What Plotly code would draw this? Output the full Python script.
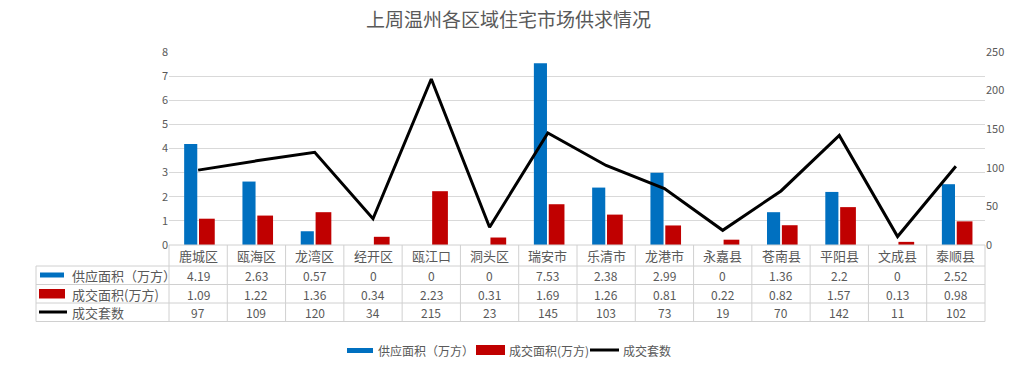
import plotly.graph_objects as go

categories = ["鹿城区", "瓯海区", "龙湾区", "经开区", "瓯江口", "洞头区", "瑞安市",
              "乐清市", "龙港市", "永嘉县", "苍南县", "平阳县", "文成县", "泰顺县"]
supply_area = [4.19, 2.63, 0.57, 0, 0, 0, 7.53, 2.38, 2.99, 0, 1.36, 2.2, 0, 2.52]
deal_area = [1.09, 1.22, 1.36, 0.34, 2.23, 0.31, 1.69, 1.26, 0.81, 0.22, 0.82, 1.57, 0.13, 0.98]
deal_units = [97, 109, 120, 34, 215, 23, 145, 103, 73, 19, 70, 142, 11, 102]
series_names = ["供应面积（万方）", "成交面积(万方)", "成交套数"]
left_ticks = [0, 1, 2, 3, 4, 5, 6, 7, 8]
right_ticks = [0, 50, 100, 150, 200, 250]

BLUE = "#0070C0"
RED = "#C00000"
BLACK = "#000000"
GREY_TXT = "#595959"
GRID = "#D9D9D9"
BORDER = "#D0D0D0"
FONT = "Noto Sans CJK SC, Microsoft YaHei, sans-serif"

W, H = 1017, 371
L, R, T, B = 169, 32, 52, 126
PW = W - L - R
PH = H - T - B


def px(x):
    return (x - L) / PW


def py(y):
    return (H - B - y) / PH


fig = go.Figure()
fig.add_trace(go.Bar(x=categories, y=supply_area, name=series_names[0],
                     marker=dict(color=BLUE, line=dict(width=0)),
                     width=0.225, offset=-0.24, showlegend=False, yaxis="y"))
fig.add_trace(go.Bar(x=categories, y=deal_area, name=series_names[1],
                     marker=dict(color=RED, line=dict(width=0)),
                     width=0.27, offset=0.015, showlegend=False, yaxis="y"))
fig.add_trace(go.Scatter(x=categories, y=deal_units, name=series_names[2], mode="lines",
                         line=dict(color=BLACK, width=3), showlegend=False, yaxis="y2"))

shapes = []
annotations = []

n = len(categories)
rows_y = [245, 266, 284.5, 303, 321.5]
table_left = 36
shapes.append(dict(type="line", xref="paper", yref="paper", x0=0, x1=1,
                   y0=py(rows_y[0]), y1=py(rows_y[0]), line=dict(color=BORDER, width=1)))
for ry in rows_y[1:]:
    shapes.append(dict(type="line", xref="paper", yref="paper", x0=px(table_left), x1=1,
                       y0=py(ry), y1=py(ry), line=dict(color=BORDER, width=1)))
for i in range(n + 1):
    shapes.append(dict(type="line", xref="paper", yref="paper", x0=i / n, x1=i / n,
                       y0=py(rows_y[0]), y1=py(rows_y[-1]), line=dict(color=BORDER, width=1)))
shapes.append(dict(type="line", xref="paper", yref="paper", x0=px(table_left), x1=px(table_left),
                   y0=py(rows_y[1]), y1=py(rows_y[-1]), line=dict(color=BORDER, width=1)))

row_centers = [255.5, 275, 294, 312.5]
for i, c in enumerate(categories):
    xc = (i + 0.5) / n
    annotations.append(dict(x=xc, y=py(row_centers[0]), xref="paper", yref="paper", text=c,
                            showarrow=False, xanchor="center", yanchor="middle",
                            font=dict(size=13, color=GREY_TXT, family=FONT)))
    for r, vals in enumerate([supply_area, deal_area, deal_units]):
        annotations.append(dict(x=xc, y=py(row_centers[r + 1]), xref="paper", yref="paper",
                                text=str(vals[i]), showarrow=False,
                                xanchor="center", yanchor="middle",
                                font=dict(size=12, color=GREY_TXT, family=FONT)))

shapes.append(dict(type="rect", xref="paper", yref="paper", x0=px(40), x1=px(64),
                   y0=py(272.5), y1=py(277.5), fillcolor=BLUE, line=dict(width=0)))
shapes.append(dict(type="rect", xref="paper", yref="paper", x0=px(39), x1=px(65),
                   y0=py(289), y1=py(298.5), fillcolor=RED, line=dict(width=0)))
shapes.append(dict(type="line", xref="paper", yref="paper", x0=px(39), x1=px(67),
                   y0=py(312), y1=py(312), line=dict(color=BLACK, width=3)))
for r, name in enumerate(series_names):
    annotations.append(dict(x=px(70), y=py(row_centers[r + 1]), xref="paper", yref="paper",
                            text=name, showarrow=False, xanchor="left", yanchor="middle",
                            font=dict(size=13, color=GREY_TXT, family=FONT)))

ly = 350
shapes.append(dict(type="rect", xref="paper", yref="paper", x0=px(347), x1=px(373),
                   y0=py(348), y1=py(353), fillcolor=BLUE, line=dict(width=0)))
shapes.append(dict(type="rect", xref="paper", yref="paper", x0=px(476), x1=px(505),
                   y0=py(345), y1=py(355), fillcolor=RED, line=dict(width=0)))
shapes.append(dict(type="line", xref="paper", yref="paper", x0=px(590), x1=px(619),
                   y0=py(ly), y1=py(ly), line=dict(color=BLACK, width=3)))
for xl, name in zip([376, 507, 621], series_names):
    annotations.append(dict(x=px(xl), y=py(ly), xref="paper", yref="paper", text=name,
                            showarrow=False, xanchor="left", yanchor="middle",
                            font=dict(size=12, color=GREY_TXT, family=FONT)))

fig.update_layout(
    width=W, height=H,
    margin=dict(l=L, r=R, t=T, b=B),
    paper_bgcolor="white", plot_bgcolor="white",
    barmode="overlay",
    title=dict(text="上周温州各区域住宅市场供求情况", x=0.5, xref="container", xanchor="center",
               y=1 - 20 / H, yref="container", yanchor="middle",
               font=dict(size=19, color=GREY_TXT, family=FONT)),
    xaxis=dict(type="category", range=[-0.5, n - 0.5], showticklabels=False, showgrid=False,
               zeroline=False, showline=False, ticks=""),
    yaxis=dict(range=[0, 8], tickvals=left_ticks, showgrid=True, gridcolor=GRID, gridwidth=1,
               zeroline=False, showline=False, ticks="", automargin=False,
               tickfont=dict(size=11, color=GREY_TXT, family=FONT)),
    yaxis2=dict(range=[0, 250], tickvals=right_ticks, overlaying="y", side="right",
                showgrid=False, zeroline=False, showline=False, ticks="", automargin=False,
                tickfont=dict(size=11, color=GREY_TXT, family=FONT)),
    shapes=shapes,
    annotations=annotations,
    showlegend=False,
)

fig.write_html("out.html", config={"displayModeBar": False},
               post_script="document.body.style.margin='0px';document.body.style.overflow='hidden';")
